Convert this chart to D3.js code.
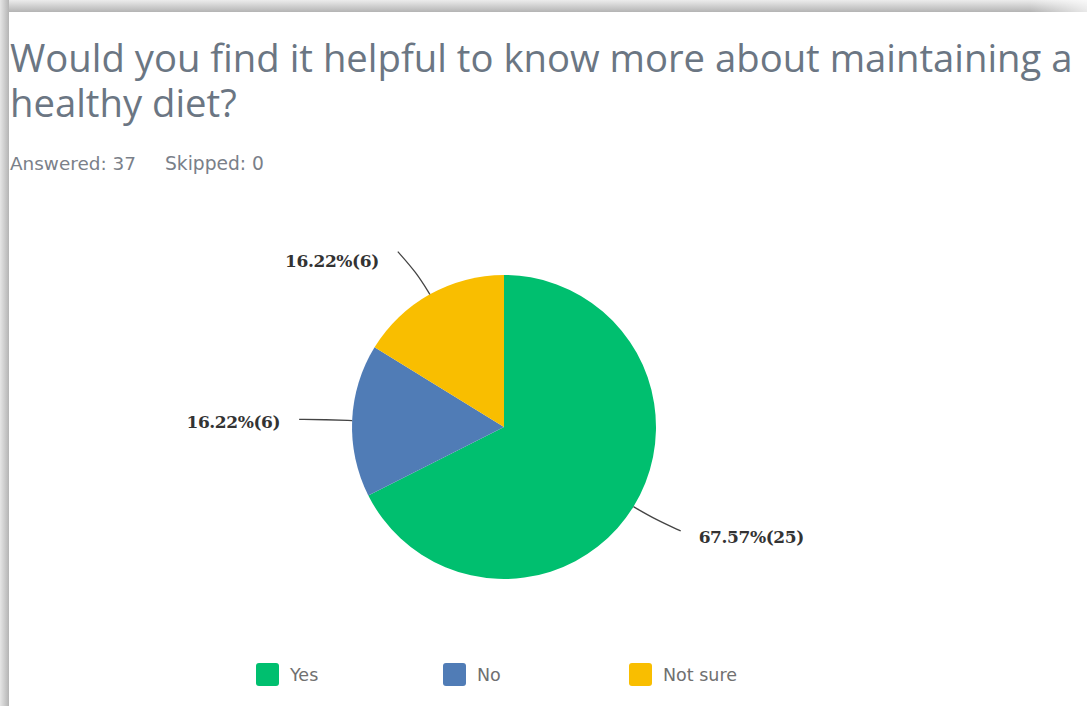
<!DOCTYPE html>
<html>
<head>
<meta charset="utf-8">
<script src="https://cdn.jsdelivr.net/npm/d3@7/dist/d3.min.js"></script>
<style>
  html, body { margin: 0; padding: 0; background: #ffffff; }
  svg { display: block; }
</style>
</head>
<body>
<script>
// Survey question and response data
const titleLines = ["Would you find it helpful to know more about maintaining a", "healthy diet?"];
const answered = 37;
const skipped = 0;
const categories = ["Yes", "No", "Not sure"];
const counts = [25, 6, 6];
const percents = [67.57, 16.22, 16.22];
const colors = ["#00bf6f", "#507cb6", "#f9be00"];

const W = 1087, H = 706;
const svg = d3.select("body").append("svg").attr("width", W).attr("height", H);

// Scale a text's font size so that it spans the given width
function fitTo(sel, width) {
  const size = parseFloat(sel.attr("font-size") || sel.node().parentNode.getAttribute("font-size"));
  const natural = sel.node().getComputedTextLength();
  sel.attr("font-size", size * width / natural);
  return sel;
}

// Card shadow along the top and left edges
const defs = svg.append("defs");
const gTop = defs.append("linearGradient").attr("id", "shadowTop")
  .attr("x1", 0).attr("y1", 0).attr("x2", 0).attr("y2", 1);
gTop.append("stop").attr("offset", "0%").attr("stop-color", "#ececec");
gTop.append("stop").attr("offset", "100%").attr("stop-color", "#b4b4b4");
const gLeft = defs.append("linearGradient").attr("id", "shadowLeft")
  .attr("x1", 0).attr("y1", 0).attr("x2", 1).attr("y2", 0);
gLeft.append("stop").attr("offset", "0%").attr("stop-color", "#e6e6e6");
gLeft.append("stop").attr("offset", "100%").attr("stop-color", "#b4b4b4");
const gFade = defs.append("linearGradient").attr("id", "shadowFade")
  .attr("x1", 0).attr("y1", 0).attr("x2", 1).attr("y2", 0);
gFade.append("stop").attr("offset", "0%").attr("stop-color", "#ffffff").attr("stop-opacity", 0);
gFade.append("stop").attr("offset", "100%").attr("stop-color", "#ffffff").attr("stop-opacity", 0.7);

svg.append("rect").attr("x", 0).attr("y", 0).attr("width", W).attr("height", 12).attr("fill", "url(#shadowTop)");
svg.append("rect").attr("x", 1030).attr("y", 0).attr("width", 57).attr("height", 12).attr("fill", "url(#shadowFade)");
svg.append("rect").attr("x", 0).attr("y", 0).attr("width", 9).attr("height", H).attr("fill", "url(#shadowLeft)");
svg.append("rect").attr("x", 9).attr("y", 12).attr("width", W - 9).attr("height", H - 12).attr("fill", "#ffffff");

// Title, fitted to the card width
const title = svg.append("g").attr("font-family", "'Open Sans', sans-serif")
  .attr("font-weight", 400).attr("fill", "#6b7683");
const t1 = title.append("text").attr("x", 10).attr("y", 72).attr("font-size", 36).text(titleLines[0]);
fitTo(t1, 1063);
title.append("text").attr("x", 10).attr("y", 117).attr("font-size", t1.attr("font-size")).text(titleLines[1]);

// Answered / skipped counts
const meta = svg.append("g").attr("font-family", "'DejaVu Sans', sans-serif")
  .attr("fill", "#7a8089");
fitTo(meta.append("text").attr("x", 10).attr("y", 170).attr("font-size", 16).text(`Answered: ${answered}`), 126);
fitTo(meta.append("text").attr("x", 165).attr("y", 170).attr("font-size", 16).text(`Skipped: ${skipped}`), 99);

// Pie
const cx = 504, cy = 427, r = 152;
const data = categories.map((c, i) => ({ cat: c, value: percents[i], count: counts[i], color: colors[i] }));
const pie = d3.pie().value(d => d.value).sort(null);
const arcs = pie(data);
const arc = d3.arc().innerRadius(0).outerRadius(r);

const gPie = svg.append("g").attr("transform", `translate(${cx},${cy})`);
gPie.selectAll("path.slice").data(arcs).join("path")
  .attr("class", "slice")
  .attr("d", arc)
  .attr("fill", d => d.data.color);

// Leader lines and value labels
const polar = (a, rad) => [rad * Math.sin(a), -rad * Math.cos(a)];
const line = d3.line().curve(d3.curveBasis);
const bends = [-0.02, -0.005, -0.035];
const labelDy = [12, 9, 15];
arcs.forEach((d, i) => {
  const mid = (d.startAngle + d.endAngle) / 2;
  const p0 = polar(mid, r);
  const p1 = polar(mid + bends[i] * 0.2, r + 26);
  const p2 = polar(mid + bends[i], r + 53);
  gPie.append("path")
    .attr("d", line([p0, p0, p1, p2]))
    .attr("fill", "none").attr("stroke", "#444").attr("stroke-width", 1.3);
  const right = Math.sin(mid) > 0;
  gPie.append("text")
    .attr("x", p2[0] + (right ? 18 : -19))
    .attr("y", p2[1] + labelDy[i])
    .attr("text-anchor", right ? "start" : "end")
    .attr("font-family", "'DejaVu Serif', serif")
    .attr("font-weight", "bold")
    .attr("font-size", 17)
    .attr("letter-spacing", -0.4)
    .attr("fill", "#333")
    .text(`${d.data.value.toFixed(2)}%(${d.data.count})`);
});

// Legend
const legendX = [256, 443, 629];
const legend = svg.append("g");
data.forEach((d, i) => {
  legend.append("rect").attr("x", legendX[i]).attr("y", 663)
    .attr("width", 23).attr("height", 23).attr("rx", 3)
    .attr("fill", d.color);
  legend.append("text").attr("x", legendX[i] + 34).attr("y", 681)
    .attr("font-family", "'DejaVu Sans', sans-serif").attr("font-size", 17.5)
    .attr("fill", "#707070")
    .text(d.cat);
});
</script>
</body>
</html>
